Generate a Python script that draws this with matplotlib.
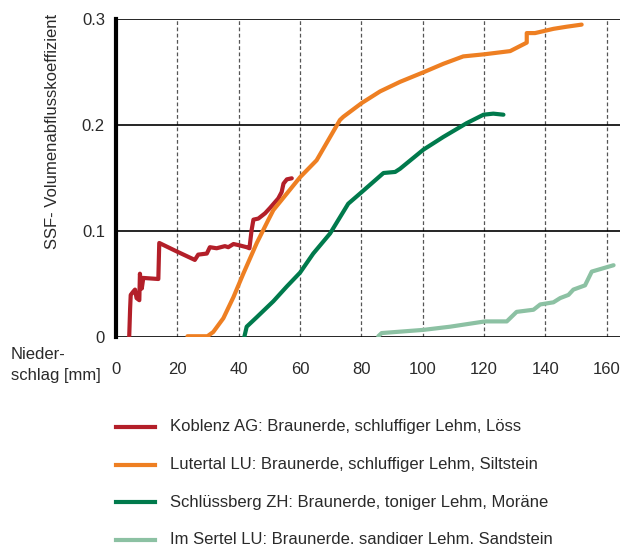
import matplotlib
matplotlib.use("Agg")
import matplotlib.pyplot as plt
from matplotlib.lines import Line2D
from matplotlib import font_manager

# --- data ---
koblenz_x = [4.3, 4.6, 4.8, 5.6, 6.2, 6.7, 7.6, 7.8, 8.4, 8.9, 13.8, 14.1, 19.8, 25.7, 26.8,
             29.6, 30.6, 32.8, 35.5, 36.6, 38.3, 39.9, 42.6, 43.5, 44.2, 44.8, 46.4, 48.6,
             50.2, 52.9, 54.0, 54.6, 55.7, 57.3]
koblenz_y = [0.0, 0.027, 0.040, 0.043, 0.045, 0.037, 0.035, 0.060, 0.046, 0.056, 0.055, 0.089,
             0.081, 0.073, 0.078, 0.079, 0.085, 0.084, 0.086, 0.085, 0.088, 0.087, 0.085, 0.084,
             0.101, 0.111, 0.112, 0.117, 0.122, 0.131, 0.137, 0.145, 0.149, 0.150]

lutertal_x = [23.3, 29.8, 31.7, 35.0, 38.3, 41.5, 45.9, 49.7, 51.3, 60.0, 65.4, 73.0, 74.1,
              80.1, 86.1, 92.6, 100.2, 106.7, 113.2, 120.1, 128.5, 133.9, 133.9, 136.6,
              142.6, 146.9, 151.8]
lutertal_y = [0.001, 0.001, 0.005, 0.018, 0.038, 0.060, 0.089, 0.111, 0.120, 0.151, 0.167,
              0.205, 0.208, 0.221, 0.232, 0.241, 0.250, 0.258, 0.265, 0.267, 0.270, 0.278,
              0.287, 0.287, 0.291, 0.293, 0.295]

schluessberg_x = [41.8, 42.6, 45.9, 51.3, 55.7, 60.0, 64.3, 69.8, 75.7, 80.1, 87.2, 91.0,
                  92.6, 100.2, 106.7, 114.3, 119.8, 123.0, 126.3]
schluessberg_y = [0.0, 0.010, 0.019, 0.034, 0.048, 0.061, 0.079, 0.098, 0.126, 0.137, 0.155,
                  0.156, 0.159, 0.177, 0.189, 0.202, 0.210, 0.211, 0.210]

sertel_x = [85.5, 86.6, 100.2, 108.9, 120.3, 127.4, 130.6, 136.1, 138.3, 142.6, 144.8, 147.5,
            149.1, 152.9, 155.1, 162.2]
sertel_y = [0.001, 0.004, 0.007, 0.010, 0.015, 0.015, 0.024, 0.026, 0.031, 0.033, 0.037,
            0.040, 0.045, 0.049, 0.062, 0.068]

labels = [
    "Koblenz AG: Braunerde, schluffiger Lehm, Löss",
    "Lutertal LU: Braunerde, schluffiger Lehm, Siltstein",
    "Schlüssberg ZH: Braunerde, toniger Lehm, Moräne",
    "Im Sertel LU: Braunerde, sandiger Lehm, Sandstein",
]
colors = ["#b31f29", "#ee7f22", "#007a4c", "#8cc1a3"]
x_ticks = [0, 20, 40, 60, 80, 100, 120, 140, 160]
y_ticks = [0, 0.1, 0.2, 0.3]
y_tick_labels = ["0", "0.1", "0.2", "0.3"]

names = {f.name for f in font_manager.fontManager.ttflist}
family = ["Liberation Sans Narrow"] if "Liberation Sans Narrow" in names else ["Liberation Sans"]
plt.rcParams["font.family"] = family + ["DejaVu Sans"]
plt.rcParams["text.color"] = "#2a2a2a"
FS = 12 if family[0] == "Liberation Sans" else 13

W, H = 620, 544
fig = plt.figure(figsize=(W / 100, H / 100), dpi=100)
ax = fig.add_axes([116 / W, 1 - 337.3 / H, (W - 116) / W, (337.3 - 19.3) / H])

series = [(koblenz_x, koblenz_y), (lutertal_x, lutertal_y),
          (schluessberg_x, schluessberg_y), (sertel_x, sertel_y)]
for (xs, ys), c in zip(series, colors):
    ax.plot(xs, ys, color=c, lw=3, solid_joinstyle="round", solid_capstyle="round",
            zorder=3)

ax.set_xlim(0, 164.3)
ax.set_ylim(0, 0.3)

for xv in x_ticks[1:]:
    ax.axvline(xv, color="#555555", lw=0.9, ls=(0, (3, 2)), zorder=1)
for yv in y_ticks:
    ax.axhline(yv, color="black", lw=1.2, zorder=2)

for s in ["top", "right", "bottom"]:
    ax.spines[s].set_visible(False)
ax.spines["left"].set_linewidth(3)
ax.spines["left"].set_zorder(4)

ax.set_xticks(x_ticks)
ax.set_xticklabels([str(v) for v in x_ticks])
ax.set_yticks(y_ticks)
ax.set_yticklabels(y_tick_labels)
ax.tick_params(axis="both", length=0, labelsize=FS, colors="#2a2a2a")
ax.tick_params(axis="x", pad=18)
ax.tick_params(axis="y", pad=8)

fig.text(53 / W, 1 - 131 / H, "SSF- Volumenabflusskoeffizient", rotation=90,
         ha="center", va="center", fontsize=FS)
fig.text(11 / W, 1 - 365 / H, "Nieder-\nschlag [mm]", ha="left", va="center",
         fontsize=FS, linespacing=1.45)

# legend
leg_y = [427, 464.7, 502.3, 539.7]
for yv, c, lab in zip(leg_y, colors, labels):
    fy = 1 - yv / H
    fig.add_artist(Line2D([116 / W, 154.5 / W], [fy, fy], color=c, lw=3,
                          transform=fig.transFigure))
    fig.text(170 / W, fy, lab, ha="left", va="center", fontsize=FS)

fig.savefig("out.png", dpi=100)
